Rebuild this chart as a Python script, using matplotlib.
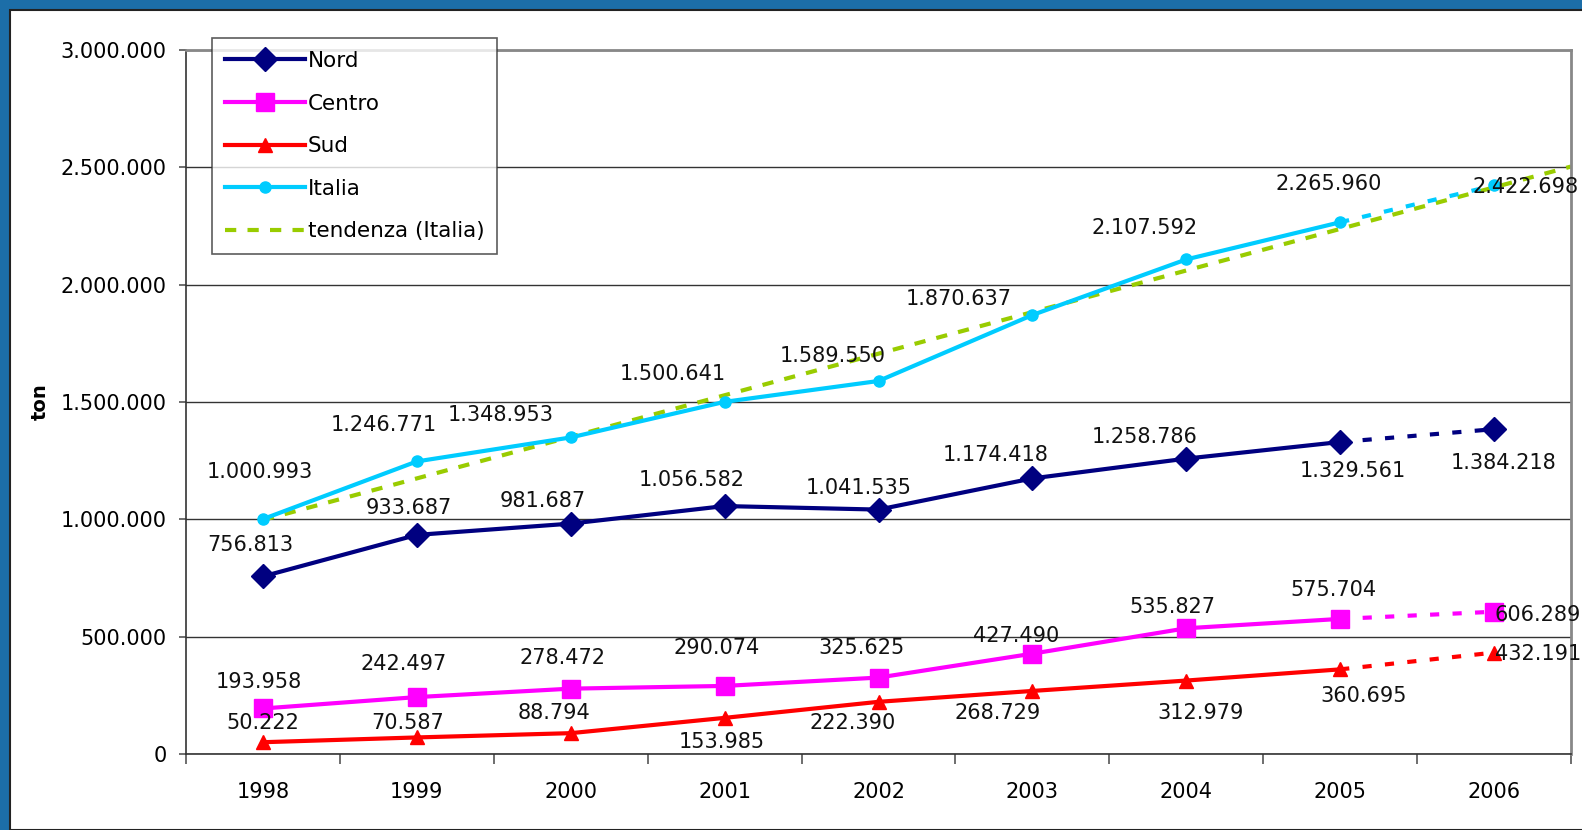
import matplotlib
matplotlib.use("Agg")
import matplotlib.pyplot as plt
from matplotlib.patches import Rectangle
from matplotlib.lines import Line2D
import numpy as np

plt.rcParams["font.family"] = ["DejaVu Sans"]

years = ["1998", "1999", "2000", "2001", "2002", "2003", "2004", "2005", "2006"]
nord = [756813, 933687, 981687, 1056582, 1041535, 1174418, 1258786, 1329561, 1384218]
centro = [193958, 242497, 278472, 290074, 325625, 427490, 535827, 575704, 606289]
sud = [50222, 70587, 88794, 153985, 222390, 268729, 312979, 360695, 432191]
italia = [1000993, 1246771, 1348953, 1500641, 1589550, 1870637, 2107592, 2265960, 2422698]
y_ticks = [0, 500000, 1000000, 1500000, 2000000, 2500000, 3000000]

# label offsets in pixels (dx, dy) relative to each point
nord_off = [(-13, 31), (-8, 27), (-28, 23), (-33, 26), (-20, 22), (-37, 23), (-42, 22), (13, -29), (10, -34)]
centro_off = [(-4, 26), (-13, 33), (-8, 31), (-8, 38), (-17, 30), (-16, 18), (-14, 21), (-7, 29), (44, -3)]
sud_off = [(0, 19), (-9, 14), (-17, 20), (-3, -24), (-26, -21), (-35, -22), (14, -32), (23, -27), (44, -1)]
italia_off = [(-3, 47), (-33, 36), (-70, 22), (-52, 28), (-46, 25), (-74, 16), (-42, 31), (-11, 38), (32, -2)]

FS = 15


def fmt(v):
    return f"{v:,}".replace(",", ".")


fig = plt.figure(figsize=(15.82, 8.30), dpi=100)
fig.patch.set_facecolor("#1C6EA8")
fig.patches.append(Rectangle((10 / 1582, 0), 1 - 10 / 1582 + 0.01, 1 - 10 / 830, transform=fig.transFigure,
                             facecolor="white", edgecolor="#222222", linewidth=1.5, zorder=-5))

ax = fig.add_axes([186 / 1582, 1 - 754 / 830, (1571 - 186) / 1582, (754 - 50) / 830])
ax.set_facecolor("none")
x = np.arange(1, len(years) + 1)

series = [
    (nord, "Nord", "#000080", "D", 12.5, nord_off),
    (centro, "Centro", "#FF00FF", "s", 13, centro_off),
    (sud, "Sud", "#FF0000", "^", 10.5, sud_off),
    (italia, "Italia", "#00CCFF", "o", 8, italia_off),
]

# trend line (linear fit on Italia, extended half a category forward)
coef = np.polyfit(x, italia, 1)
xt = np.array([1, len(years) + 0.5])
ax.plot(xt, np.polyval(coef, xt), color="#99CC00", linewidth=3, linestyle=(0, (2.7, 2.7)), zorder=2)

for vals, name, col, mk, ms, offs in series:
    ax.plot(x[:-1], vals[:-1], color=col, linewidth=3, marker=mk, markersize=ms, zorder=3)
    ax.plot(x[-2:], vals[-2:], color=col, linewidth=3, linestyle=(0, (2.2, 3.2)), zorder=3)
    ax.plot(x[-1], vals[-1], color=col, marker=mk, markersize=ms, linestyle="none", zorder=3)
    for xi, v, (dx, dy) in zip(x, vals, offs):
        ax.annotate(fmt(v), (xi, v), xytext=(dx, dy), textcoords="offset pixels",
                    ha="center", va="center", fontsize=FS, color="#111111", zorder=5)

ax.set_xlim(0.5, len(years) + 0.5)
ax.set_ylim(0, 3000000)
ax.set_yticks(y_ticks)
ax.set_yticklabels([fmt(v) for v in y_ticks], fontsize=FS)
ax.set_xticks(np.arange(0.5, len(years) + 1, 1))
ax.set_xticklabels([])
ax.set_xticks(x, minor=True)
ax.set_xticklabels(years, minor=True, fontsize=FS)
ax.tick_params(axis="x", which="major", direction="out", length=7, width=1.2, color="#555555")
ax.tick_params(axis="x", which="minor", length=0, pad=20)
ax.tick_params(axis="y", direction="out", length=5, width=1.2, color="#555555", pad=9)
ax.grid(axis="y", color="#333333", linewidth=1)
ax.set_axisbelow(True)
for s in ["top", "right"]:
    ax.spines[s].set_color("#888888")
    ax.spines[s].set_linewidth(2)
for s in ["left", "bottom"]:
    ax.spines[s].set_color("#333333")
    ax.spines[s].set_linewidth(1.2)
ax.set_ylabel("ton", fontsize=14, fontweight="bold", labelpad=8)

handles = [Line2D([], [], color=c, linewidth=3, marker=m, markersize=ms)
           for _, _, c, m, ms, _ in series]
handles.append(Line2D([], [], color="#99CC00", linewidth=3, linestyle=(0, (2.7, 2.7))))
labels = [s[1] for s in series] + ["tendenza (Italia)"]
leg = fig.legend(handles, labels, loc="upper left", bbox_to_anchor=(212 / 1582, 1 - 38 / 830),
                 bbox_transform=fig.transFigure, fontsize=FS + 0.5, frameon=True, fancybox=False,
                 handlelength=3.7, handletextpad=0.15, labelspacing=1.05, borderpad=0.6,
                 borderaxespad=0)
leg.get_frame().set_edgecolor("#333333")
leg.get_frame().set_linewidth(1.2)

fig.savefig("out.png", dpi=100, facecolor=fig.get_facecolor())
